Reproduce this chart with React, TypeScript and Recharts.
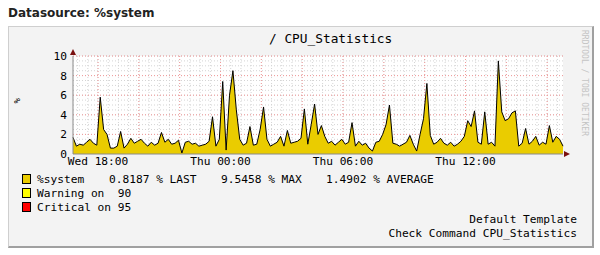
import { Area, AreaChart, CartesianGrid, ReferenceDot, XAxis, YAxis } from "recharts";

// time axis in hours since Wed 00:00, one sample every 10 minutes
const START_HOUR = 16.775;
const STEP_HOURS = 1 / 6;
const END_HOUR = START_HOUR + 24;

const systemValues = [
  1.7, 0.8, 1.0, 0.9, 1.2, 1.5, 1.1, 0.9, 5.8, 2.5,
  2.0, 0.6, 0.6, 0.8, 2.3, 0.6, 1.0, 1.6, 1.1, 1.3,
  1.5, 1.1, 0.8, 1.2, 0.9, 1.1, 2.2, 1.2, 1.5, 1.0,
  1.1, 1.4, 0.1, 1.2, 1.3, 1.0, 1.1, 0.8, 0.9, 1.0,
  1.3, 3.8, 0.8, 1.5, 7.4, 0.4, 6.0, 8.5, 4.5, 1.5,
  0.9, 1.1, 2.8, 0.9, 1.0, 2.5, 4.8, 1.5, 0.8, 1.0,
  1.2, 1.8, 0.8, 2.4, 1.1, 1.2, 1.3, 1.6, 4.6, 1.0,
  3.0, 5.1, 2.0, 2.9, 1.8, 1.1, 1.3, 0.9, 1.2, 1.5,
  1.0, 1.2, 3.2, 0.8, 1.3, 0.9, 1.1, 0.6, 0.3, 1.2,
  1.3, 2.0, 3.0, 5.0, 1.1, 1.0, 0.8, 1.0, 1.2, 1.9,
  1.0, 0.3, 2.0, 3.6, 7.2, 1.9, 1.0, 1.2, 1.6, 1.1,
  0.9, 1.2, 0.8, 1.0, 1.3, 1.8, 3.4, 2.8, 4.4, 1.2,
  1.0, 4.3, 1.0, 1.2, 0.8, 9.5, 4.3, 3.4, 3.6, 4.2,
  4.4, 0.8, 1.1, 2.6, 1.0, 1.3, 1.8, 0.9, 1.2, 1.0,
  2.9, 1.2, 1.8, 1.5, 0.8,
];

const xTicks = [18, 24, 30, 36];
const xTickLabels = ["Wed 18:00", "Thu 00:00", "Thu 06:00", "Thu 12:00"];
const yTicks = [0, 2, 4, 6, 8, 10];

const legendName = "%system";
const legendStats = ["0.8187 % LAST", "9.5458 % MAX", "1.4902 % AVERAGE"];
const legendStatX = [109, 221, 326];
const thresholdLabels = ["Warning on  90", "Critical on 95"];
const thresholdColors = ["#ffff00", "#ff0000"];

const data = systemValues.map((v, i) => ({ t: START_HOUR + i * STEP_HOURS, v }));

// grid positions: minor every 30 min / 0.5 %, major every 2 h / 2 %
const minorX: number[] = [];
for (let h = 17; h < END_HOUR; h += 0.5) minorX.push(h);
const majorX: number[] = [];
for (let h = 18; h < END_HOUR; h += 2) majorX.push(h);
const minorY: number[] = [];
for (let y = 0.5; y <= 10; y += 0.5) minorY.push(y);
const majorY = [2, 4, 6, 8, 10];

const MONO = "'DejaVu Sans Mono', monospace";

const ArrowUp = (props: any) => {
  const { cx, cy } = props;
  return <path d={`M${cx - 3},${cy - 1} L${cx + 3},${cy - 1} L${cx},${cy - 7} Z`} fill="#7a1010" />;
};

const ArrowRight = (props: any) => {
  const { cx, cy } = props;
  return <path d={`M${cx + 1},${cy - 3} L${cx + 1},${cy + 3} L${cx + 7},${cy} Z`} fill="#7a1010" />;
};

const Swatch = ({ color, top }: { color: string; top: number }) => (
  <div
    style={{
      position: "absolute",
      left: 22,
      top,
      width: 7,
      height: 8,
      background: color,
      border: "1px solid #000",
    }}
  />
);

const textStyle = (left: number, top: number): React.CSSProperties => ({
  position: "absolute",
  left,
  top,
  fontFamily: MONO,
  fontSize: 11.2,
  lineHeight: "13px",
  whiteSpace: "pre",
  color: "#000",
});

export default function App() {
  return (
    <div style={{ position: "absolute", left: 0, top: 0, width: 600, height: 255, background: "#fff", overflow: "hidden" }}>
      <div
        style={{
          position: "absolute",
          left: 8,
          top: 6,
          fontFamily: "'DejaVu Sans', sans-serif",
          fontWeight: "bold",
          fontSize: 12,
          color: "#222",
        }}
      >
        Datasource: %system
      </div>
      <div
        style={{
          position: "absolute",
          left: 8,
          top: 26,
          width: 583,
          height: 219,
          background: "#f3f3f3",
          borderTop: "1px solid #cfcfcf",
          borderLeft: "1px solid #cfcfcf",
          borderRight: "2px solid #a0a0a0",
          borderBottom: "2px solid #a0a0a0",
        }}
      />
      <div style={{ ...textStyle(269, 31), fontSize: 12.8, lineHeight: "15px" }}>/ CPU_Statistics</div>
      <div
        style={{
          position: "absolute",
          left: 580,
          top: 30,
          writingMode: "vertical-rl",
          fontFamily: MONO,
          fontSize: 8,
          color: "#c4c4c4",
          whiteSpace: "pre",
        }}
      >
        RRDTOOL / TOBI OETIKER
      </div>
      <div
        style={{
          position: "absolute",
          left: 12,
          top: 98,
          writingMode: "vertical-rl",
          transform: "rotate(180deg)",
          fontFamily: MONO,
          fontSize: 9,
          color: "#000",
        }}
      >
        %
      </div>

      <div style={{ position: "absolute", left: 0, top: 0 }}>
        <AreaChart width={600} height={255} data={data} margin={{ top: 56, right: 37, bottom: 81, left: 28 }}>
          <CartesianGrid
            fill="#ffffff"
            stroke="#d4d4d4"
            strokeDasharray="1 2"
            verticalValues={minorX}
            horizontalValues={minorY}
          />
          <CartesianGrid
            stroke="#f19a9a"
            strokeDasharray="1 2"
            verticalValues={majorX}
            horizontalValues={majorY}
          />
          <XAxis
            dataKey="t"
            type="number"
            domain={[START_HOUR, END_HOUR]}
            ticks={xTicks}
            tickFormatter={(t: number) => xTickLabels[xTicks.indexOf(t)] ?? ""}
            height={20}
            tickSize={2}
            tickMargin={1}
            tickLine={false}
            axisLine={{ stroke: "#8a8a8a" }}
            tick={{ fontFamily: MONO, fontSize: 11.2, fill: "#000" }}
            interval={0}
          />
          <YAxis
            type="number"
            domain={[0, 10]}
            ticks={yTicks}
            width={45}
            tickSize={4}
            tickMargin={2}
            tickLine={false}
            axisLine={{ stroke: "#8a8a8a" }}
            tick={{ fontFamily: MONO, fontSize: 11.2, fill: "#000" }}
            interval={0}
          />
          <Area
            dataKey="v"
            type="linear"
            fill="#eacc00"
            fillOpacity={1}
            stroke="#000"
            strokeWidth={1}
            dot={false}
            activeDot={false}
            isAnimationActive={false}
          />
          <ReferenceDot x={START_HOUR} y={10} ifOverflow="visible" shape={ArrowUp} />
          <ReferenceDot x={END_HOUR} y={0} ifOverflow="visible" shape={ArrowRight} />
        </AreaChart>
      </div>

      <Swatch color="#eacc00" top={174} />
      <div style={textStyle(37, 173)}>{legendName}</div>
      {legendStats.map((s, i) => (
        <div key={s} style={textStyle(legendStatX[i], 173)}>
          {s}
        </div>
      ))}
      {thresholdLabels.map((label, i) => (
        <div key={label}>
          <Swatch color={thresholdColors[i]} top={188 + i * 14} />
          <div style={textStyle(37, 187 + i * 14)}>{label}</div>
        </div>
      ))}
      <div style={{ ...textStyle(0, 213), left: "auto", right: 23, textAlign: "right" }}>Default Template</div>
      <div style={{ ...textStyle(0, 227), left: "auto", right: 23, textAlign: "right" }}>Check Command CPU_Statistics</div>
    </div>
  );
}
